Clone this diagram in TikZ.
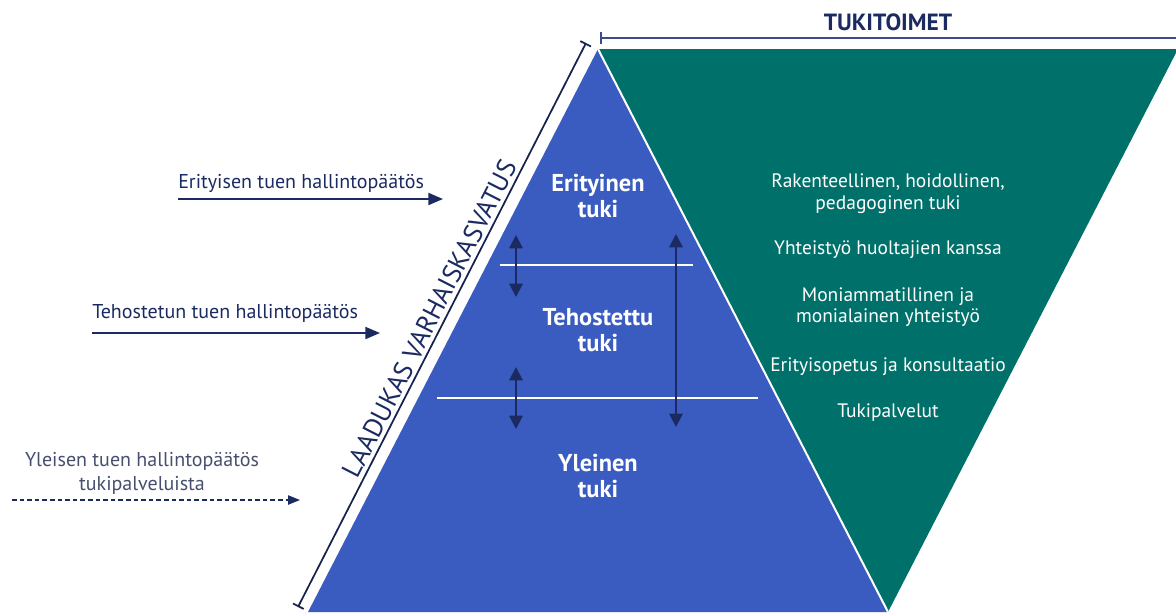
\documentclass[tikz,border=0pt]{standalone}
\usepackage{fontspec}
\setmainfont{PT Sans}
\usetikzlibrary{arrows.meta}
\definecolor{pyrblue}{HTML}{3A5BBF}
\definecolor{pyrgreen}{HTML}{00716A}
\definecolor{navy}{HTML}{1B2B62}
\definecolor{brkblue}{HTML}{3D4A8C}
\definecolor{greytext}{HTML}{46506E}
\tikzset{
  lbl/.style={font=\fontsize{15}{18}\selectfont, text=navy, inner sep=0pt},
  grn/.style={font=\fontsize{14.6}{16}\selectfont, text=white, align=center, inner sep=0pt},
  lvl/.style={font=\bfseries\fontsize{18.3}{19.5}\selectfont, text=white, align=center, inner sep=0pt},
  decarrow/.style={navy, line width=1.5pt, -{Triangle[length=11pt, width=9pt]}},
  dblarrow/.style={navy, line width=1.6pt, {Triangle[length=10pt, width=10pt]}-{Triangle[length=10pt, width=10pt]}},
  sepline/.style={white, line width=1.2pt},
}
\begin{document}
\begin{tikzpicture}[x=0.75pt, y=-0.75pt]
\useasboundingbox (0,0) rectangle (1176,612);
\clip (0,0) rectangle (1176,612);
% shapes
\coordinate (apex) at (598,49);
\coordinate (bl) at (308,612);
\coordinate (br) at (888,612);
\coordinate (gtr) at (1178,49);
\fill[pyrblue] (apex) -- (bl) -- (br) -- cycle;
\fill[pyrgreen] (apex) -- (gtr) -- (br) -- cycle;
\draw[sepline, line width=1.5pt] (apex) -- (br);
% level separators
\coordinate (s1a) at (500,265); \coordinate (s1b) at (693,265);
\coordinate (s2a) at (437,398); \coordinate (s2b) at (758,398);
\draw[sepline] (s1a) -- (s1b);
\draw[sepline] (s2a) -- (s2b);
% top bracket
\coordinate (tb1) at (600,37.7); \coordinate (tb2) at (1180,37.7);
\draw[brkblue, line width=1.6pt, {Bar[width=9pt]}-] (tb1) -- (tb2);
\node[font=\bfseries\fontsize{17.6}{20}\selectfont, text=navy] (tuki) at (888,22) {TUKITOIMET};
% diagonal bracket
\coordinate (db1) at (298,607); \coordinate (db2) at (586,43);
\draw[navy!80!black, line width=1.3pt, {Bar[width=9pt]}-{Bar[width=9pt]}] (db1) -- (db2)
  node[pos=0.5, sloped, above, inner sep=2.5pt, font=\fontsize{20}{22}\selectfont, text=navy] (laad) {LAADUKAS VARHAISKASVATUS};
% level labels
\node[lvl] (eri) at (598,196) {Erityinen\\tuki};
\node[lvl] (teh) at (598,330) {Tehostettu\\tuki};
\node[lvl] (yle) at (598,476) {Yleinen\\tuki};
% double arrows
\coordinate (d1a) at (516,235); \coordinate (d1b) at (516,297);
\coordinate (d2a) at (516,367); \coordinate (d2b) at (516,429);
\coordinate (d3a) at (676,234); \coordinate (d3b) at (676,427);
\draw[dblarrow] (d1a) -- (d1b);
\draw[dblarrow] (d2a) -- (d2b);
\draw[dblarrow] (d3a) -- (d3b);
% green texts
\node[grn] (g1) at (888,193.5) {Rakenteellinen, hoidollinen,\\pedagoginen tuki};
\node[grn] (g2) at (888,250) {Yhteistyö huoltajien kanssa};
\node[grn] (g3) at (888,307) {Moniammatillinen ja\\monialainen yhteistyö};
\node[grn] (g4) at (888,367) {Erityisopetus ja konsultaatio};
\node[grn] (g5) at (888,413) {Tukipalvelut};
% left decisions
\node[lbl, anchor=west] (t1) at (178,183) {Erityisen tuen hallintopäätös};
\coordinate (a1s) at (178,199); \coordinate (a1e) at (443,199);
\draw[decarrow] (a1s) -- (a1e);
\node[lbl, anchor=west] (t2) at (92,313) {Tehostetun tuen hallintopäätös};
\coordinate (a2s) at (92,333); \coordinate (a2e) at (380,333);
\draw[decarrow] (a2s) -- (a2e);
\node[lbl, text=greytext, align=center] (t3) at (142,473) {Yleisen tuen hallintopäätös\\tukipalveluista};
\coordinate (a3s) at (12,500); \coordinate (a3e) at (300,500);
\draw[navy, line width=1pt, dash pattern=on 3.5pt off 2.2pt, -{Triangle[length=9pt, width=7pt]}] (a3s) -- (a3e);
\end{tikzpicture}
\end{document}
